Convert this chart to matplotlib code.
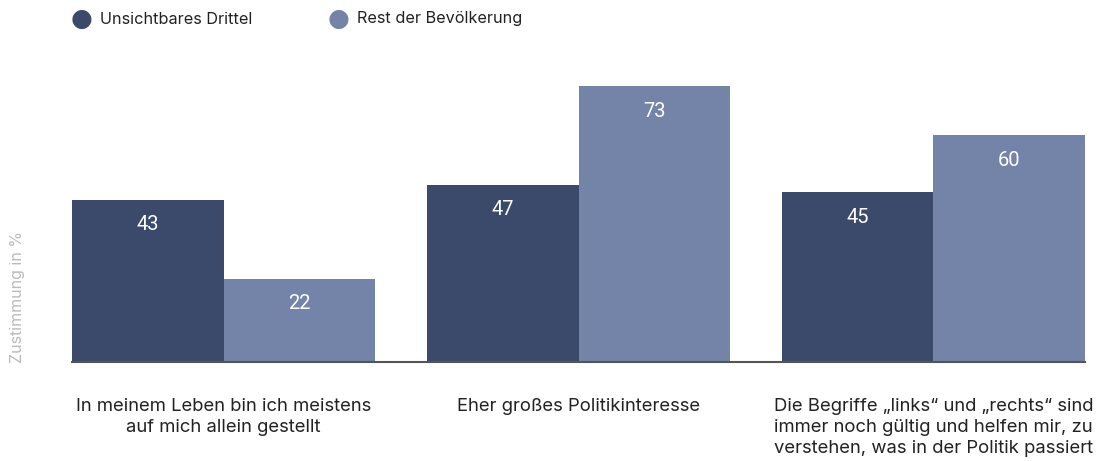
import matplotlib.pyplot as plt
import numpy as np

# Data
categories = [
    'In meinem Leben bin ich meistens\nauf mich allein gestellt',
    'Eher großes Politikinteresse',
    'Die Begriffe „links“ und „rechts“ sind\nimmer noch gültig und helfen mir, zu\nverstehen, was in der Politik passiert',
]
series_names = ['Unsichtbares Drittel', 'Rest der Bevölkerung']
unsichtbar = [43, 47, 45]
rest = [22, 73, 60]

dark = '#3b4a6b'
light = '#7384a8'
font = ['Inter', 'DejaVu Sans']

fig = plt.figure(figsize=(10.96, 4.61), dpi=100)
ax = fig.add_axes([72 / 1096, 99 / 461, (1085 - 72) / 1096, (362 - 60) / 461])

x = np.arange(len(categories))
w = 0.427
b1 = ax.bar(x - w / 2, unsichtbar, w, color=dark, label=series_names[0])
b2 = ax.bar(x + w / 2, rest, w, color=light, label=series_names[1])

for bars, vals in [(b1, unsichtbar), (b2, rest)]:
    for bar, v in zip(bars, vals):
        ax.annotate(str(v), (bar.get_x() + bar.get_width() / 2, v),
                    xytext=(0, -18), textcoords='offset points',
                    ha='center', va='center', color='white', fontsize=14.5,
                    family=['Roboto', 'DejaVu Sans'])

ax.set_xlim(-w, len(categories) - 1 + w)
ax.set_ylim(0, 80)
ax.set_xticks(x)
ax.set_xticklabels(categories, fontsize=13.3, family=font, color='#222222',
                   linespacing=1.3)
ax.tick_params(axis='x', length=0, pad=26)
ax.set_yticks([])
for s in ['top', 'right', 'left']:
    ax.spines[s].set_visible(False)
ax.spines['bottom'].set_color('#555555')
ax.spines['bottom'].set_linewidth(1.5)

fig.text(18 / 1096, 1 - 297 / 461, 'Zustimmung in %', rotation=90,
         ha='center', va='center', color='#bbbbbb', fontsize=11.5, family=font)

# Legend as circles + text
for cx, col, name in [(82, dark, series_names[0]), (339, light, series_names[1])]:
    fig.text(cx / 1096, 1 - 19 / 461, '●', color=col, fontsize=18,
             ha='center', va='center', family=['DejaVu Sans'])
    fig.text((cx + 18) / 1096, 1 - 19 / 461, name, color='#222222',
             fontsize=11.7, ha='left', va='center', family=font)

fig.savefig('out.png', dpi=100)
